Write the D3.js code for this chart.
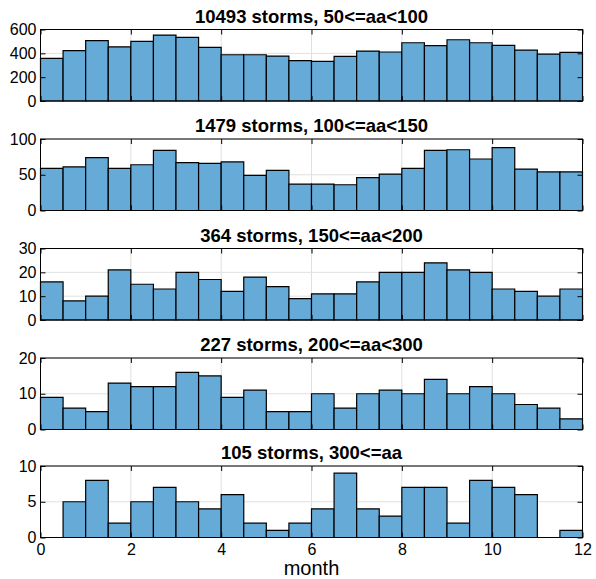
<!DOCTYPE html>
<html lang="en">
<head>
    <meta charset="UTF-8">
    <title>Storms by month</title>
    <script src="https://d3js.org/d3.v7.min.js"></script>
    <style>
        body { margin: 0; background: #fff; }
        text { font-family: "Liberation Sans", Arial, Helvetica, sans-serif; fill: #000; }
        .grid line { stroke: #e0e0e0; stroke-width: 1; }
        .bar { fill: rgb(102,170,215); stroke: #000; stroke-width: 1.2; }
        .frame { fill: none; stroke: #000; stroke-width: 1; }
        .axis line { stroke: #000; }
        .axis path { display: none; }
        .axis text { font-size: 16px; }
        .title { font-size: 18.5px; font-weight: bold; text-anchor: middle; }
    </style>
</head>
<body>
    <svg width="596" height="579"></svg>
    <script>
        // counts per half-month bin (24 bins over 0..12 months)
        const counts50 = [357, 422, 506, 455, 500, 553, 534, 450, 388, 388, 377, 338,
                          332, 374, 419, 411, 489, 464, 514, 489, 466, 427, 394, 408];
        const counts100 = [59, 61, 74, 59, 64, 84, 67, 66, 68, 49, 56, 37,
                           37, 36, 46, 51, 59, 84, 85, 72, 88, 58, 54, 54];
        const counts150 = [16, 8, 10, 21, 15, 13, 20, 17, 12, 18, 14, 9,
                           11, 11, 16, 20, 20, 24, 21, 20, 13, 12, 10, 13];
        const counts200 = [9, 6, 5, 13, 12, 12, 16, 15, 9, 11, 5, 5,
                           10, 6, 10, 11, 10, 14, 10, 12, 10, 7, 6, 3];
        const counts300 = [0, 5, 8, 2, 5, 7, 5, 4, 6, 2, 1, 2,
                           4, 9, 4, 3, 7, 7, 2, 8, 7, 6, 0, 1];

        const titles = ["10493 storms, 50<=aa<100", "1479 storms, 100<=aa<150",
                        "364 storms, 150<=aa<200", "227 storms, 200<=aa<300",
                        "105 storms, 300<=aa"];
        const yMaxes = [600, 100, 30, 20, 10];
        const yTicks = [[0, 200, 400, 600], [0, 50, 100], [0, 10, 20, 30], [0, 10, 20], [0, 5, 10]];
        const xTicks = [0, 2, 4, 6, 8, 10, 12];
        const binWidth = 0.5;
        const allCounts = [counts50, counts100, counts150, counts200, counts300];

        const svg = d3.select("svg");
        const left = 40.5, right = 582.5;
        const panelH = 71.5;
        const tops = [29.5, 139, 248.5, 358, 466];

        const x = d3.scaleLinear().domain([0, 12]).range([left, right]);

        allCounts.forEach((counts, i) => {
            const g = svg.append("g").attr("transform", `translate(0,${tops[i]})`);
            const y = d3.scaleLinear().domain([0, yMaxes[i]]).range([panelH, 0]);

            // grid
            const grid = g.append("g").attr("class", "grid");
            grid.selectAll(".gx").data(xTicks).enter().append("line")
                .attr("x1", d => x(d)).attr("x2", d => x(d))
                .attr("y1", 0).attr("y2", panelH);
            grid.selectAll(".gy").data(yTicks[i]).enter().append("line")
                .attr("x1", left).attr("x2", right)
                .attr("y1", d => y(d)).attr("y2", d => y(d));

            // bars
            g.selectAll(".bar").data(counts).enter().append("path")
                .attr("class", "bar")
                .attr("d", (d, j) => {
                    const x0 = x(j * binWidth), x1 = x((j + 1) * binWidth);
                    return `M${x0},${y(0)}V${y(d)}H${x1}V${y(0)}Z`;
                });

            // axes (ticks inward)
            const bottom = d3.axisBottom(x).tickValues(xTicks).tickSizeInner(-5).tickSizeOuter(0).tickPadding(6);
            if (i < allCounts.length - 1) bottom.tickFormat("");
            g.append("g").attr("class", "axis").attr("transform", `translate(0,${panelH})`).call(bottom);
            g.append("g").attr("class", "axis")
                .call(d3.axisTop(x).tickValues(xTicks).tickSizeInner(-5).tickSizeOuter(0).tickFormat(""));
            g.append("g").attr("class", "axis").attr("transform", `translate(${left},0)`)
                .call(d3.axisLeft(y).tickValues(yTicks[i]).tickSizeInner(-5).tickSizeOuter(0).tickPadding(4));
            g.append("g").attr("class", "axis").attr("transform", `translate(${right},0)`)
                .call(d3.axisRight(y).tickValues(yTicks[i]).tickSizeInner(-5).tickSizeOuter(0).tickFormat(""));

            g.append("rect").attr("class", "frame")
                .attr("x", left).attr("y", 0)
                .attr("width", right - left).attr("height", panelH);

            g.append("text").attr("class", "title")
                .attr("x", (left + right) / 2).attr("y", -7)
                .text(titles[i]);
        });

        svg.append("text")
            .attr("x", (left + right) / 2).attr("y", 575)
            .attr("text-anchor", "middle")
            .style("font-size", "20px")
            .text("month");
    </script>
</body>
</html>
